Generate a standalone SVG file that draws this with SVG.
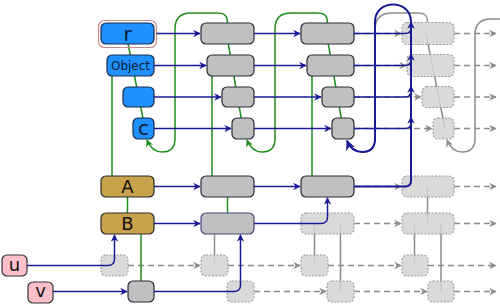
<svg xmlns="http://www.w3.org/2000/svg" width="500" height="304" viewBox="0 0 500 304">
<defs>
<style>
.blue{fill:#1e90ff;stroke:#1a2a4a;stroke-width:1.2}
.gray{fill:#c0c0c0;stroke:#2a2a3a;stroke-width:1.2}
.gold{fill:#c9a24c;stroke:#2a2a2a;stroke-width:1.2}
.pink{fill:#ffc0cb;stroke:#333;stroke-width:1.2}
.ghost{fill:#d3d3d3;fill-opacity:0.85;stroke:#9a9a9a;stroke-width:1.1;stroke-dasharray:2,1.5}
.t{font-family:"DejaVu Sans",sans-serif;text-anchor:middle;fill:#0d1a33}
.bl{fill:none;stroke:#1a1a96;stroke-width:1.5}
.bl2{fill:none;stroke:#1a1a96;stroke-width:2}
.gr{fill:none;stroke:#1f8f1f;stroke-width:1.5}
.gy{fill:none;stroke:#8c8c8c;stroke-width:1.5}
.gd{fill:none;stroke:#8c8c8c;stroke-width:1.5;stroke-dasharray:6,4}
</style>
<marker id="ab" viewBox="0 0 10 10" refX="9" refY="5" markerWidth="5" markerHeight="5" orient="auto" markerUnits="strokeWidth"><path d="M0,0 L10,5 L0,10 L3,5 z" fill="#1a1a96"/></marker>
<marker id="ab2" viewBox="0 0 10 10" refX="9" refY="5" markerWidth="5" markerHeight="5" orient="auto" markerUnits="strokeWidth"><path d="M0,0 L10,5 L0,10 L3,5 z" fill="#1a1a96"/></marker>
<marker id="ag" viewBox="0 0 10 10" refX="9" refY="5" markerWidth="5" markerHeight="5" orient="auto" markerUnits="strokeWidth"><path d="M0,0 L10,5 L0,10 L3,5 z" fill="#1f8f1f"/></marker>
<marker id="ay" viewBox="0 0 10 10" refX="9" refY="5" markerWidth="5" markerHeight="5" orient="auto" markerUnits="strokeWidth"><path d="M0,0 L10,5 L0,10 L3,5 z" fill="#8c8c8c"/></marker>
</defs>
<rect width="500" height="304" fill="#fff"/>

<g id="connectors-ghost">
<!-- tree lines in ghost column -->
<path class="gy" d="M426,33.5 L445,128.5"/>
<path class="gy" d="M427.5,186.5 V223.5"/>
<path class="gy" d="M314.5,223.5 V265.5 M340.5,223.5 V291.5"/>
<path class="gy" d="M214.5,223.5 V265.5"/>
<path class="gy" d="M414.5,223.5 V265.5 M441,223.5 V291.5"/>
<!-- gray loops -->
<path class="gy" d="M427.5,22 C427.5,14 423,13 417,13 H392 Q375,13 375,30 V139 Q375,152 362,152 Q352,152 347,140"/>
<path class="gy" marker-end="url(#ay)" d="M500,19 H491 Q475,19 475,35 V139 Q475,152 462,152 Q452,152 447,140"/>
<!-- dashed ghost arrows -->
<path class="gd" marker-end="url(#ay)" d="M354,33.5 H401"/>
<path class="gd" marker-end="url(#ay)" d="M354,65.5 H406"/>
<path class="gd" marker-end="url(#ay)" d="M354,97 H421"/>
<path class="gd" marker-end="url(#ay)" d="M354,128.5 H432"/>
<path class="gd" marker-end="url(#ay)" d="M354,186.5 H401"/>
<path class="gd" marker-end="url(#ay)" d="M354,223.5 H401"/>
<path class="gd" marker-end="url(#ay)" d="M454,33.5 H496"/>
<path class="gd" marker-end="url(#ay)" d="M454,65.5 H496"/>
<path class="gd" marker-end="url(#ay)" d="M454,97 H496"/>
<path class="gd" marker-end="url(#ay)" d="M454,128.5 H496"/>
<path class="gd" marker-end="url(#ay)" d="M454,186.5 H496"/>
<path class="gd" marker-end="url(#ay)" d="M454,223.5 H496"/>
<path class="gd" marker-end="url(#ay)" d="M128,265.5 H200"/>
<path class="gd" marker-end="url(#ay)" d="M228,265.5 H300"/>
<path class="gd" marker-end="url(#ay)" d="M328,265.5 H401"/>
<path class="gd" marker-end="url(#ay)" d="M428,265.5 H496"/>
<path class="gd" marker-end="url(#ay)" d="M254,291.5 H326"/>
<path class="gd" marker-end="url(#ay)" d="M354,291.5 H427"/>
<path class="gd" marker-end="url(#ay)" d="M454,291.5 H496"/>
</g>

<g id="connectors-green">
<path class="gr" d="M126,33.5 L145,128.5"/>
<path class="gr" d="M226.5,33.5 L243,128.5"/>
<path class="gr" d="M326.5,33.5 L343,128.5"/>
<path class="gr" d="M112,65.5 V186.5 M212,65.5 V186.5 M312,65.5 V186.5"/>
<path class="gr" d="M127.5,186.5 V223.5 M227.5,186.5 V223.5"/>
<path class="gr" d="M141,223.5 V291.5"/>
<path class="gr" marker-end="url(#ag)" d="M227.5,23 C227.5,14 223,13 216,13 H191 Q175,13 175,29 V139 Q175,152 162,152 Q152,152 147,140"/>
<path class="gr" marker-end="url(#ag)" d="M327.5,23 C327.5,14 323,13 316,13 H291 Q275,13 275,29 V139 Q275,152 262,152 Q252,152 247,140"/>
</g>

<g id="ghost-nodes">
<rect id="g4r" class="ghost" x="402" y="22.5" width="52" height="22" rx="5"/>
<rect id="g4o" class="ghost" x="407" y="54.5" width="47" height="22" rx="5"/>
<rect id="g4b" class="ghost" x="422" y="86.5" width="32" height="21" rx="5"/>
<rect id="g4c" class="ghost" x="433" y="118" width="21" height="21" rx="5"/>
<rect id="g4A" class="ghost" x="402" y="176" width="52" height="21" rx="5"/>
<rect id="g4B" class="ghost" x="402" y="213" width="52" height="21" rx="5"/>
<rect id="g3B" class="ghost" x="301" y="213" width="53" height="21" rx="5"/>
<rect id="g1u" class="ghost" x="101" y="255" width="27" height="21" rx="5"/>
<rect id="g2u" class="ghost" x="201" y="255" width="27" height="21" rx="5"/>
<rect id="g3u" class="ghost" x="301" y="255" width="27" height="21" rx="5"/>
<rect id="g4u" class="ghost" x="402" y="255" width="26" height="21" rx="5"/>
<rect id="g2v" class="ghost" x="227" y="281" width="27" height="21" rx="5"/>
<rect id="g3v" class="ghost" x="327" y="281" width="27" height="21" rx="5"/>
<rect id="g4v" class="ghost" x="428" y="281" width="26" height="21" rx="5"/>
</g>

<g id="node-r"><rect x="98.5" y="20.5" width="58" height="27" rx="6" fill="none" stroke="#c98a8a" stroke-width="1.2"/><rect class="blue" x="101" y="23" width="53" height="21" rx="5"/><text class="t" x="127.5" y="41" font-size="20">r</text></g>
<g id="node-Object"><rect class="blue" x="107" y="55" width="47" height="21" rx="5"/><text class="t" x="130.5" y="70" font-size="12">Object</text></g>
<g id="node-blank"><rect class="blue" x="123" y="87" width="31" height="20" rx="5"/></g>
<g id="node-c"><rect class="blue" x="133" y="118" width="21" height="21" rx="5"/><text class="t" x="143.5" y="135" font-size="20">c</text></g>
<g id="node-A"><rect class="gold" x="101" y="176" width="53" height="21" rx="5"/><text class="t" x="127.5" y="193" font-size="18" style="fill:#111">A</text></g>
<g id="node-B"><rect class="gold" x="101" y="213" width="53" height="21" rx="5"/><text class="t" x="127.5" y="230" font-size="18" style="fill:#111">B</text></g>
<g id="node-u"><rect class="pink" x="2" y="255" width="25" height="21" rx="5"/><text class="t" x="14.5" y="271" font-size="18" style="fill:#111">u</text></g>
<g id="node-v"><rect class="pink" x="28" y="282" width="25" height="21" rx="5"/><text class="t" x="40.5" y="297" font-size="18" style="fill:#111">v</text></g>
<g id="node-v1"><rect class="gray" x="128" y="281" width="26" height="21" rx="5"/></g>

<g id="node-r2"><rect class="gray" x="201" y="23" width="53" height="21" rx="5"/></g>
<g id="node-o2"><rect class="gray" x="207" y="55" width="47" height="21" rx="5"/></g>
<g id="node-b2"><rect class="gray" x="222" y="87" width="32" height="20" rx="5"/></g>
<g id="node-c2"><rect class="gray" x="232" y="118" width="22" height="21" rx="5"/></g>
<g id="node-A2"><rect class="gray" x="201" y="176" width="53" height="21" rx="5"/></g>
<g id="node-B2"><rect class="gray" x="201" y="213" width="53" height="21" rx="5" style="stroke:#45457a"/></g>

<g id="node-r3"><rect class="gray" x="301" y="23" width="53" height="21" rx="5"/></g>
<g id="node-o3"><rect class="gray" x="307" y="55" width="47" height="21" rx="5"/></g>
<g id="node-b3"><rect class="gray" x="322" y="87" width="32" height="20" rx="5"/></g>
<g id="node-c3"><rect class="gray" x="332" y="118" width="22" height="21" rx="5"/></g>
<g id="node-A3"><rect class="gray" x="301" y="176" width="53" height="21" rx="5"/></g>

<g id="connectors-blue">
<path class="bl" marker-end="url(#ab)" d="M156.5,33.5 H200"/>
<path class="bl" marker-end="url(#ab)" d="M154,65.5 H206"/>
<path class="bl" marker-end="url(#ab)" d="M154,97 H221"/>
<path class="bl" marker-end="url(#ab)" d="M154,128.5 H231"/>
<path class="bl" marker-end="url(#ab)" d="M154,186.5 H200"/>
<path class="bl" marker-end="url(#ab)" d="M154,223.5 H200"/>
<path class="bl" marker-end="url(#ab)" d="M254,33.5 H300"/>
<path class="bl" marker-end="url(#ab)" d="M254,65.5 H306"/>
<path class="bl" marker-end="url(#ab)" d="M254,97 H321"/>
<path class="bl" marker-end="url(#ab)" d="M254,128.5 H331"/>
<path class="bl" marker-end="url(#ab)" d="M254,186.5 H300"/>
<path class="bl" marker-end="url(#ab)" d="M27,265.5 H108 Q114.5,265.5 114.5,259 V235"/>
<path class="bl" marker-end="url(#ab)" d="M53,291.5 H127"/>
<path class="bl" marker-end="url(#ab)" d="M154,291.5 H234 Q240.5,291.5 240.5,285 V235"/>
<path class="bl" marker-end="url(#ab)" d="M254,223.5 H321 Q327.5,223.5 327.5,217 V198"/>
<path class="bl" marker-end="url(#ab)" d="M354,33.5 H405 Q411,33.5 411,27.5 V22"/>
<path class="bl" marker-end="url(#ab)" d="M354,65.5 H405 Q411,65.5 411,59.5 V54"/>
<path class="bl" marker-end="url(#ab)" d="M354,97 H405 Q411,97 411,91 V86"/>
<path class="bl" marker-end="url(#ab)" d="M354,128.5 H405 Q411,128.5 411,122.5 V117"/>
<path class="bl2" marker-end="url(#ab2)" d="M354,186.5 H405 Q411,186.5 411,180.5 V22 C411,-1.5 375,-1.5 375,22 V139 Q375,152 362,152 Q352,152 347,141"/>
</g>
</svg>
